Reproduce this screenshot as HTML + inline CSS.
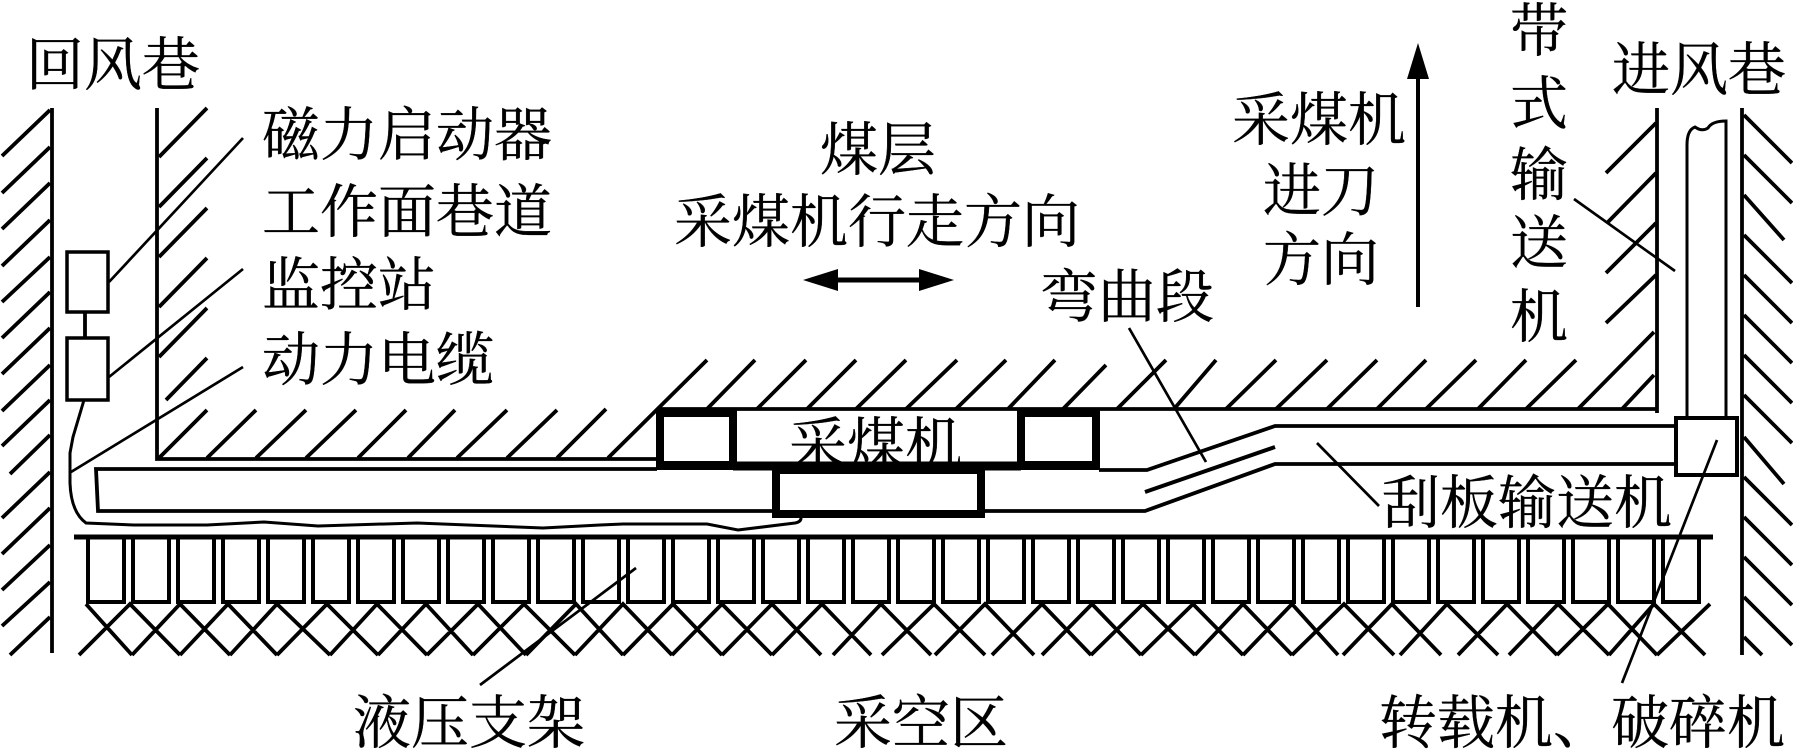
<!DOCTYPE html>
<html lang="zh"><head><meta charset="utf-8"><title>采煤工作面布置</title>
<style>
html,body{margin:0;padding:0;background:#fff;width:1793px;height:751px;overflow:hidden}
svg{display:block}
text{font-family:"Liberation Serif","Noto Serif CJK SC",serif;font-size:58px;fill:#000;stroke:#000;stroke-width:.35px}
</style></head><body>
<svg width="1793" height="751" viewBox="0 0 1793 751" xmlns="http://www.w3.org/2000/svg">
<rect width="1793" height="751" fill="#fff"/>
<g fill="none" stroke="#000" stroke-width="3.8">
<!-- walls -->
<path d="M52 108V653M157 108V459H660M657 409H1657M1657 108V413M1742 108V655"/>
<!-- left wall hatch -->
<path d="M50 110L2 156M50 147L2 193M50 183L2 229M50 220L2 266M50 257L2 302M50 292L2 338M50 328L2 374M50 365L2 411M50 400L2 446M50 435L10 474M50 472L2 518M50 508L2 554M50 545L2 590M50 582L2 626M50 617L10 655"/>
<!-- second wall hatch -->
<path d="M159 157L207 108M159 207L207 158M159 257L207 208M159 307L207 258M159 357L207 308M166 400L207 358M159 458L207 410"/>
<!-- coal wall hatch, left part -->
<path d="M207 458L256 410M256 458L306 410M306 458L356 410M358 458L406 410M408 458L455 410M457 458L507 410M507 458L557 410M557 458L606 409M608 458L707 360"/>
<!-- coal wall hatch, right part -->
<path d="M707 409L755 360M757 409L806 360M807 409L856 360M856 409L906 360M906 409L957 360M956 409L1006 360M1008 409L1055 360M1063 409L1106 365M1117 409L1166 360M1174 409L1216 360M1226 409L1276 360M1276 409L1327 360M1327 409L1377 360M1377 409L1426 360M1426 409L1476 360M1478 409L1526 360M1526 409L1576 360M1578 409L1654 332M1622 409L1654 375"/>
<!-- right gallery hatch -->
<path d="M1606 173L1656 123M1608 222L1656 173M1606 273L1656 223M1606 323L1656 275"/>
<path d="M1744 115L1792 163M1744 155L1792 203M1744 195L1784 240M1744 235L1792 283M1744 275L1792 323M1744 315L1792 363M1744 355L1792 403M1744 395L1792 443M1744 437L1784 484M1744 477L1792 525M1744 517L1792 565M1744 557L1792 605M1744 597L1792 645M1744 637L1762 655"/>
<!-- belt conveyor -->
<path d="M1687 417V145Q1687 130 1695 127Q1702 132 1708 128Q1712 121 1726 121V417" stroke-width="3"/>
<!-- transfer box -->
<rect x="1676" y="418" width="61" height="57" fill="#fff" stroke-width="4"/>
<!-- scraper conveyor -->
<path d="M1676 426H1275L1147 470H1099M657 469H96L98 511H1145L1275 464H1676"/>
<path d="M1145 492L1275 447" stroke-width="4"/>
<!-- stations -->
<rect x="67" y="252" width="41" height="60" stroke-width="3.5"/>
<rect x="67" y="338" width="41" height="62" stroke-width="3.5"/>
<path d="M85 312V338"/>
<!-- cable -->
<path d="M84 400L73 437L70 453L70 483Q71 512 86 523L134 525L207 525L264 522L318 526L417 523L543 528L600 525L623 524L707 524L738 530L795 523Q801 522 801 518" stroke-width="3"/>
<!-- supports -->
<path d="M74 537H1713" stroke-width="5"/>
<path d="M88 537V602H124V537M133 537V602H169V537M178 537V602H214V537M223 537V602H259V537M268 537V602H304V537M313 537V602H349V537M358 537V602H394V537M403 537V602H439V537M448 537V602H484V537M493 537V602H529V537M538 537V602H574V537M583 537V602H619V537M628 537V602H664V537M673 537V602H709V537M718 537V602H754V537M763 537V602H799V537M808 537V602H844V537M853 537V602H889V537M898 537V602H934V537M943 537V602H979V537M988 537V602H1024V537M1033 537V602H1069V537M1078 537V602H1114V537M1123 537V602H1159V537M1168 537V602H1204V537M1213 537V602H1249V537M1258 537V602H1294V537M1303 537V602H1339V537M1348 537V602H1384V537M1393 537V602H1429V537M1438 537V602H1474V537M1483 537V602H1519V537M1528 537V602H1564V537M1573 537V602H1609V537M1618 537V602H1654V537M1663 537V602H1699V537" stroke-width="4"/>
<!-- goaf cross hatch -->
<path d="M86 604L132 655M79 655L130 604L180 655M132 655L180 604L230 655M180 655L228 604L277 655M230 655L277 604L330 655M277 655L327 604L378 655M330 655L377 604L427 655M378 655L426 604L473 655M427 655L478 604L526 655M473 655L524 604L575 655M526 655L576 604L623 655M575 655L623 604L672 655M623 655L673 604L722 655M672 655L722 604L772 655M722 655L772 604L821 655M772 655L822 604L871 655M833 655L881 604L931 655M882 655L934 604L985 655M935 655L985 604L1034 655M992 655L1042 604L1091 655M1042 655L1092 604L1141 655M1091 655L1143 604L1195 655M1141 655L1193 604L1243 655M1195 655L1243 604L1292 655M1243 655L1292 604L1338 655M1292 655L1344 604L1394 655M1343 655L1392 604L1441 655M1400 655L1447 604L1498 655M1458 655L1507 604L1557 655M1509 655L1558 604L1609 655M1557 655L1608 604L1657 655M1609 655L1654 604L1705 655M1657 655L1710 604"/>
<!-- leaders -->
<g stroke-width="2.7">
<path d="M243 138L109 282M243 269L109 377M243 367L71 472M480 685L636 568M1129 328L1206 462M1317 443L1379 506M1574 199L1675 271M1717 440L1622 683"/>
</g>
</g>
<!-- labels -->
<text x="26" y="85">回风巷</text>
<text x="262" y="155">磁力启动器</text>
<text x="262" y="232">工作面巷道</text>
<text x="262" y="305">监控站</text>
<text x="262" y="380">动力电缆</text>
<text x="820" y="170">煤层</text>
<text x="674" y="242">采煤机行走方向</text>
<text x="1040" y="317">弯曲段</text>
<text x="1232" y="140">采煤机</text>
<text x="1263" y="211">进刀</text>
<text x="1263" y="280">方向</text>
<text x="1510" y="51">带</text>
<text x="1510" y="124">式</text>
<text x="1510" y="195">输</text>
<text x="1510" y="263">送</text>
<text x="1510" y="337">机</text>
<text x="1612" y="90">进风巷</text>
<text x="1382" y="523">刮板输送机</text>
<text x="353" y="743">液压支架</text>
<text x="834" y="743">采空区</text>
<text x="1379" y="743">转载机、破碎机</text>
<text x="789" y="465">采煤机</text>
<!-- shearer -->
<g fill="none" stroke="#000" stroke-width="8">
<rect x="660" y="413" width="73" height="52"/>
<rect x="1021" y="413" width="75" height="52"/>
<path d="M657 466H1099"/>
<rect x="776" y="470" width="205" height="44" fill="#fff"/>
<path d="M733 466H1021" stroke-width="9"/>
</g>
<!-- arrows -->
<path d="M837 280H920" stroke="#000" stroke-width="5"/>
<polygon points="803,280 838,269 838,291" fill="#000"/>
<polygon points="954,280 919,269 919,291" fill="#000"/>
<path d="M1418 307V75" stroke="#000" stroke-width="4"/>
<polygon points="1418,43 1407,79 1429,79" fill="#000"/>
</svg>
</body></html>
